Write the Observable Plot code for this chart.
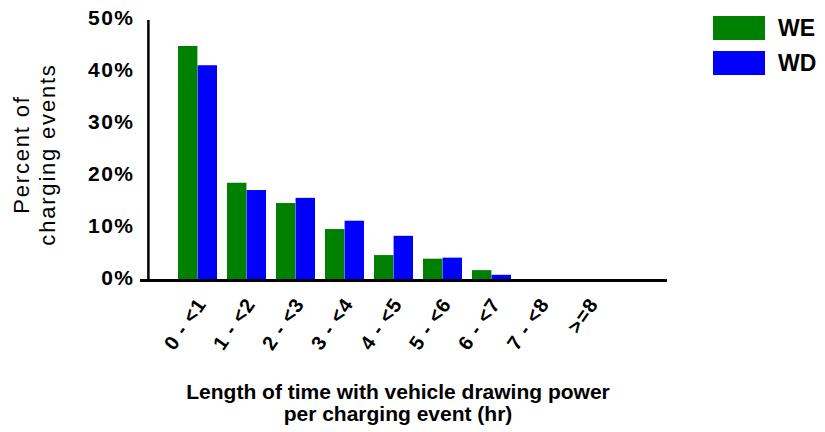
<!DOCTYPE html>
<html><head><meta charset="utf-8">
<script src="https://cdn.jsdelivr.net/npm/d3@7"></script>
<script src="https://cdn.jsdelivr.net/npm/@observablehq/plot@0.6"></script>
<style>
body{margin:0;background:#fff;}
#wrap{position:relative;width:825px;height:432px;}
.leg{position:absolute;left:713px;width:52px;height:24px;}
.legt{position:absolute;left:778px;font:bold 23px "Liberation Sans",Arial,sans-serif;line-height:24px;height:24px;}
</style></head><body><div id="wrap"></div>
<script>
const categories = ["0 - <1","1 - <2","2 - <3","3 - <4","4 - <5","5 - <6","6 - <7","7 - <8",">=8"];
const series = ["WE","WD"];
const weValues = [45.0,18.7,14.8,9.8,4.8,4.1,1.9,0,0];
const wdValues = [41.3,17.3,15.8,11.4,8.5,4.3,1.0,0,0];
const yTicks = [0,10,20,30,40,50];
const colors = ["#008000","#0000ff"];
const yTitle = "Percent of\ncharging events";
const xTitle = "Length of time with vehicle drawing power\nper charging event (hr)";

const rows = categories.map((c,i)=>({category:c, WE:weValues[i], WD:wdValues[i]}));
const font = "Liberation Sans, Arial, sans-serif";
const chart = Plot.plot({
  width: 825, height: 432,
  marginLeft: 148, marginRight: 158, marginTop: 20, marginBottom: 152,
  style: {fontFamily: font, background: "white", color: "black"},
  x: {domain: categories, range: [173.1, 614.1], paddingInner: 0.2, paddingOuter: 0.1, axis: null, label: null},
  y: {domain: [0,50], axis: null, label: null},
  marks: [
    Plot.barY(rows, {x:"category", y:series[0], fill: colors[0], insetRight: 19.6}),
    Plot.barY(rows, {x:"category", y:series[1], fill: colors[1], insetLeft: 19.6}),
    Plot.ruleY([0], {stroke:"black", strokeWidth:3, insetLeft:-8}),
    Plot.ruleX([categories[0]], {y1:0, y2:50, dx:-49.6, stroke:"black", strokeWidth:2.5}),
    Plot.axisY({ticks: yTicks, tickFormat: d=>d+"%", tickSize:0, tickPadding:14, fontSize: 21, fontWeight:"bold", dy:-2, label: null}),
    Plot.axisX({tickRotate:-55, tickSize:0, tickPadding: 20, fontSize:20, fontWeight:"bold", dx: 4, label: null}),
    Plot.text([yTitle], {text: d=>d, frameAnchor:"left", textAnchor:"middle", rotate:-90, dx:-115, dy:4, fontSize:22, lineHeight:1.18}),
    Plot.text([xTitle], {text: d=>d, frameAnchor:"bottom", lineAnchor:"middle", dx:-10, dy:122, fontSize:21, fontWeight:"bold", lineHeight:1.05})
  ]
});
const wrap = document.getElementById("wrap");
wrap.appendChild(chart);
d3.select(chart).selectAll("[aria-label='x-axis tick label'] text").style("letter-spacing","1px");
d3.select(chart).selectAll("[aria-label='y-axis tick label'] text").style("letter-spacing","1.5px");
d3.select(chart).selectAll("[aria-label='text']").filter((d,i)=>i===0).selectAll("text").style("letter-spacing","1.8px");
series.forEach((s,i)=>{
  const r = document.createElement("div"); r.className="leg";
  r.style.top = (16 + i*35) + "px"; r.style.background = colors[i]; wrap.appendChild(r);
  const t = document.createElement("div"); t.className="legt";
  t.style.top = (16 + i*35) + "px"; t.textContent = s; wrap.appendChild(t);
});
</script></body></html>
